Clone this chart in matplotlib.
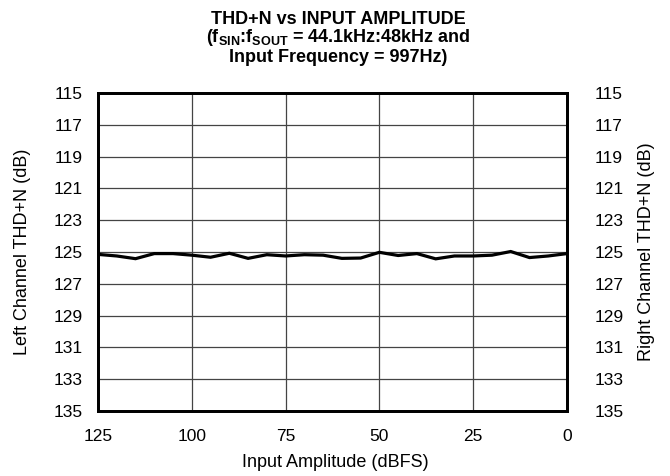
import matplotlib
matplotlib.use("Agg")
import matplotlib.pyplot as plt

plt.rcParams['font.family'] = ['Liberation Sans', 'DejaVu Sans']
plt.rcParams['mathtext.fontset'] = 'custom'
plt.rcParams['mathtext.rm'] = 'Liberation Sans:bold'
plt.rcParams['mathtext.it'] = 'Liberation Sans:bold'
plt.rcParams['mathtext.bf'] = 'Liberation Sans:bold'
plt.rcParams['mathtext.default'] = 'rm'

amplitude = [125, 120, 115, 110, 105, 100, 95, 90, 85, 80, 75, 70, 65,
             60, 55, 50, 45, 40, 35, 30, 25, 20, 15, 10, 5, 0]
thdn = [125.15, 125.25, 125.42, 125.1, 125.1, 125.2, 125.33, 125.08, 125.4, 125.17, 125.25, 125.17, 125.2,
        125.4, 125.38, 125.02, 125.22, 125.1, 125.43, 125.25, 125.25, 125.2, 124.97, 125.35, 125.25, 125.1]
yticks = [115, 117, 119, 121, 123, 125, 127, 129, 131, 133, 135]
xticks = [125, 100, 75, 50, 25, 0]

W, H = 670, 476
fig = plt.figure(figsize=(W / 100, H / 100), dpi=100)
x0, x1, y0, y1 = 98, 567, 93, 411
ax = fig.add_axes([x0 / W, 1 - y1 / H, (x1 - x0) / W, (y1 - y0) / H])
ax.plot(amplitude, thdn, color='black', lw=2.3, solid_joinstyle='miter')
ax.set_xlim(125, 0)
ax.set_ylim(135, 115)
ax.set_xticks(xticks)
ax.set_yticks(yticks)
ax.grid(True, color='#444444', lw=0.9)
ax.tick_params(length=0, labelsize=12.5)
ax.tick_params(axis='y', pad=11)
ax.tick_params(axis='x', pad=13)
for s in ax.spines.values():
    s.set_linewidth(2.0)
ax.set_xlabel('Input Amplitude (dBFS)', fontsize=13)
ax.xaxis.set_label_coords(0.505, -0.135)
ax.set_ylabel('Left Channel THD+N (dB)', fontsize=13)
ax.yaxis.set_label_coords(-0.143, 0.5)

ax2 = ax.twinx()
ax2.set_ylim(135, 115)
ax2.set_yticks(yticks)
ax2.tick_params(length=0, labelsize=12.5, pad=20)
ax2.set_ylabel('Right Channel THD+N (dB)', fontsize=13)
ax2.yaxis.set_label_coords(1.151, 0.5)
for s in ax2.spines.values():
    s.set_linewidth(2.0)

tx = 338 / W
fig.text(tx, 1 - 23.5 / H, 'THD+N vs INPUT AMPLITUDE', ha='center', va='baseline',
         fontsize=13, fontweight='bold')
fig.text(tx, 1 - 42.5 / H, '(f$_{SIN}$:f$_{SOUT}$ = 44.1kHz:48kHz and', ha='center', va='baseline',
         fontsize=13, fontweight='bold')
fig.text(tx, 1 - 61.5 / H, 'Input Frequency = 997Hz)', ha='center', va='baseline',
         fontsize=13, fontweight='bold')

fig.savefig('out.png', dpi=100)
